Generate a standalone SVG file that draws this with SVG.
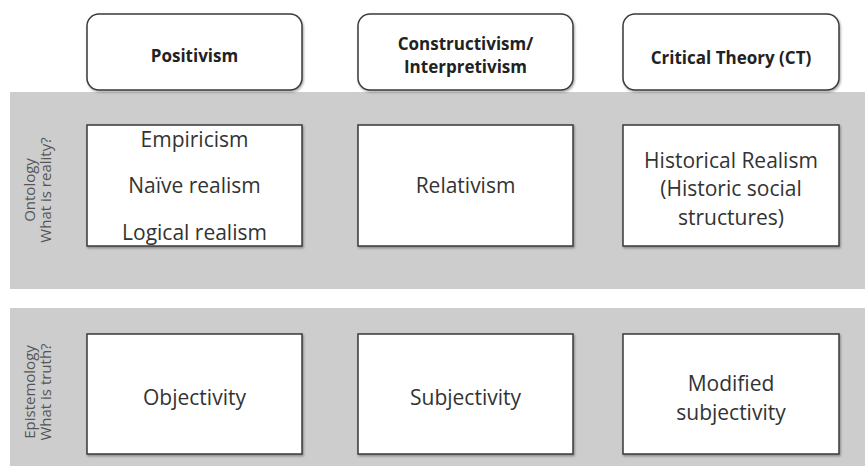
<svg xmlns="http://www.w3.org/2000/svg" width="865" height="469" viewBox="0 0 865 469">
<defs>
<filter id="sh" x="-5%" y="-5%" width="110%" height="115%">
<feDropShadow dx="1" dy="1.5" stdDeviation="1" flood-color="#000" flood-opacity="0.35"/>
</filter>
</defs>
<style>
.band{fill:#cdcdcd}
.hdr{fill:#fff;stroke:#3a3a3a;stroke-width:1.5;filter:url(#sh)}
.box{fill:#fff;stroke:#3a3a3a;stroke-width:1.5;filter:url(#sh)}
.ht{font-family:"Open Sans","Liberation Sans",sans-serif;font-weight:bold;font-size:17px;fill:#222;text-anchor:middle;dominant-baseline:central}
.bt{font-family:"Open Sans","Liberation Sans",sans-serif;font-size:21px;fill:#333;text-anchor:middle;dominant-baseline:central}
.side{font-family:"Open Sans","Liberation Sans",sans-serif;font-size:15px;fill:#555;text-anchor:middle;dominant-baseline:central}
</style>
<rect width="865" height="469" fill="#fff"/>
<g id="band-ontology"><rect class="band" x="10" y="92" width="855" height="197"/></g>
<g id="band-epistemology"><rect class="band" x="10" y="308" width="855" height="158"/></g>
<g id="label-ontology"><text class="side" transform="translate(29,190) rotate(-90)">Ontology</text><text class="side" transform="translate(45,190) rotate(-90)">What is reality?</text></g>
<g id="label-epistemology"><text class="side" transform="translate(29,392) rotate(-90)">Epistemology</text><text class="side" transform="translate(45,392) rotate(-90)">What is truth?</text></g>
<g id="hdr-positivism"><rect class="hdr" x="87" y="14" width="215" height="76" rx="12"/><text class="ht" x="194.5" y="55">Positivism</text></g>
<g id="hdr-constructivism"><rect class="hdr" x="358" y="14" width="215" height="76" rx="12"/><text class="ht" x="465.5" y="43">Constructivism/</text><text class="ht" x="465.5" y="66">Interpretivism</text></g>
<g id="hdr-critical"><rect class="hdr" x="623" y="14" width="216" height="76" rx="12"/><text class="ht" x="731" y="57">Critical Theory (CT)</text></g>
<g id="ont-positivism"><rect class="box" x="87" y="125" width="215" height="121"/><text class="bt" x="194.5" y="139">Empiricism</text><text class="bt" x="194.5" y="185">Naïve realism</text><text class="bt" x="194.5" y="232">Logical realism</text></g>
<g id="ont-constructivism"><rect class="box" x="358" y="125" width="215" height="121"/><text class="bt" x="465.5" y="185">Relativism</text></g>
<g id="ont-critical"><rect class="box" x="623" y="125" width="216" height="121"/><text class="bt" x="731" y="160">Historical Realism</text><text class="bt" x="731" y="188">(Historic social</text><text class="bt" x="731" y="217">structures)</text></g>
<g id="epi-positivism"><rect class="box" x="87" y="334" width="215" height="120"/><text class="bt" x="194.5" y="397">Objectivity</text></g>
<g id="epi-constructivism"><rect class="box" x="358" y="334" width="215" height="120"/><text class="bt" x="465.5" y="397">Subjectivity</text></g>
<g id="epi-critical"><rect class="box" x="623" y="334" width="216" height="120"/><text class="bt" x="731" y="383">Modified</text><text class="bt" x="731" y="412">subjectivity</text></g>
<g id="connectors"></g>
</svg>
